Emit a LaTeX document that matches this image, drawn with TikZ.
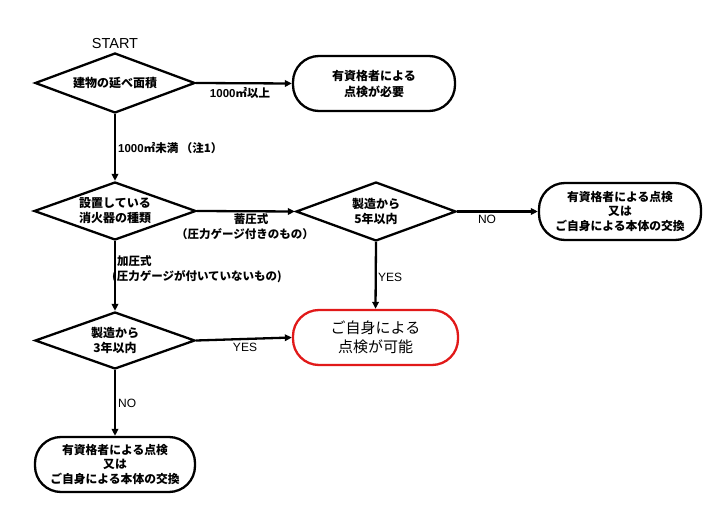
\documentclass[tikz,border=0pt]{standalone}
\usepackage{fontspec}
\newfontfamily\jp{Noto Sans CJK JP}
\newfontfamily\lat{Liberation Sans}
\usetikzlibrary{shapes.geometric,arrows.meta}
\definecolor{okred}{RGB}{225,25,25}
\tikzset{
  dec/.style={diamond, draw, line width=2.3pt, aspect=2.76, inner sep=0pt,
    align=center, font=\jp\bfseries\fontsize{12}{15}\selectfont},
  term/.style={rectangle, rounded corners=26pt, draw, line width=2.3pt,
    align=center, minimum width=162pt, minimum height=55pt, inner sep=0pt,
    font=\jp\bfseries\fontsize{12}{16}\selectfont},
  conn/.style={line width=2.3pt, -{Triangle[length=7pt,width=6.5pt]}},
  lab/.style={inner sep=0pt, font=\jp\bfseries\fontsize{11.5}{14.5}\selectfont},
  latlab/.style={inner sep=0pt, font=\lat\fontsize{12}{14}\selectfont},
}
\begin{document}
\begin{tikzpicture}[x=1pt,y=-1pt]
\useasboundingbox (0,0) rectangle (719,521);
% nodes
\node[inner sep=0pt, font=\lat\fontsize{14.5}{16}\selectfont] (start) at (115,44) {START};
\node[dec, minimum width=160pt, minimum height=60pt] (d1) at (115,83) {建物の延べ面積};
\node[term] (t1) at (374,83.5) {有資格者による\\点検が必要};
\node[dec, minimum width=162pt, minimum height=58pt] (d2) at (115,211) {設置している\\消火器の種類};
\node[dec, minimum width=160pt, minimum height=59pt] (d3) at (376,211.5) {製造から\\5年以内};
\node[term, minimum height=57pt, font=\jp\bfseries\fontsize{11.8}{14.5}\selectfont] (t3) at (620,211.5) {有資格者による点検\\又は\\ご自身による本体の交換};
\node[dec, minimum width=160pt, minimum height=57pt] (d4) at (115,340.5) {製造から\\3年以内};
\node[term, draw=okred, minimum width=165pt, font=\jp\fontsize{15}{19}\selectfont] (ok) at (375.5,337.5) {ご自身による\\点検が可能};
\node[term, minimum width=160pt, font=\jp\bfseries\fontsize{11.8}{14.5}\selectfont] (t4) at (115,464.5) {有資格者による点検\\又は\\ご自身による本体の交換};
% connectors
\draw[conn] (d1.east) -- (t1.west);
\draw[conn] (d1.south) -- (d2.north);
\draw[conn] (d2.east) -- (d3.west);
\draw[conn] (d3.east) -- (t3.west);
\draw[conn] (d3.south) -- (ok.north);
\draw[conn] (d2.south) -- (d4.north);
\draw[conn] (d4.east) -- (ok.west);
\draw[conn] (d4.south) -- (t4.north);
% labels
\node[lab] (l1) at (240,93) {{\lat 1000}㎡以上};
\node[lab, anchor=west] (l2) at (118,148) {{\lat 1000}㎡未満 （注1）};
\node[lab, align=center] (l3) at (245,226.5) {\hspace*{12pt}蓄圧式\\（圧力ゲージ付きのもの）};
\node[lab, align=left, anchor=west] (l4) at (117,269) {加圧式\\\hspace*{-5pt}(圧力ゲージが付いていないもの)};
\node[latlab, anchor=west] (l5) at (378,277) {YES};
\node[latlab] (l6) at (245,347) {YES};
\node[latlab] (l7) at (487,219) {NO};
\node[latlab, anchor=west] (l8) at (118,403) {NO};
\end{tikzpicture}
\end{document}
